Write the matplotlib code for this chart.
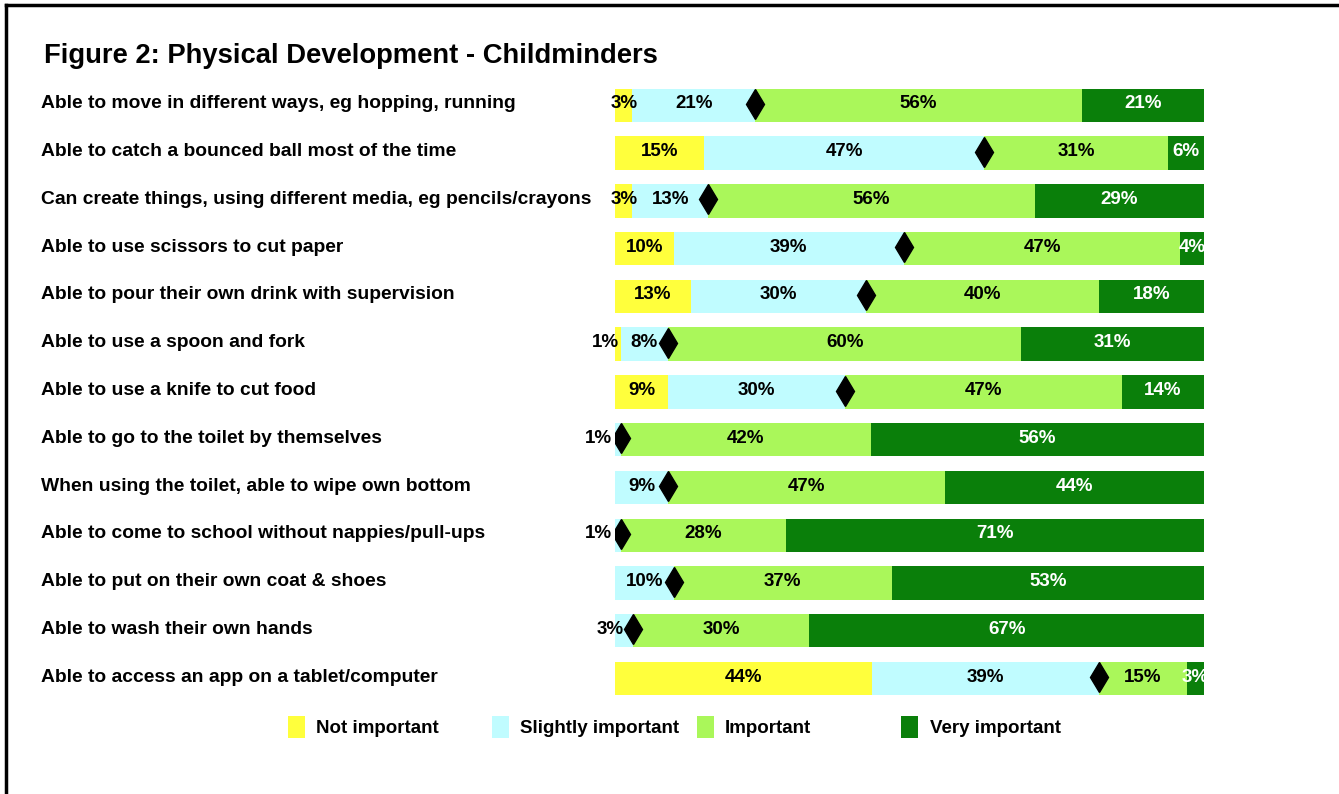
import numpy as np
import matplotlib.pyplot as plt
import matplotlib.transforms as mtransforms
from matplotlib.patches import Patch
from matplotlib.lines import Line2D

plt.rcParams['font.family'] = ['Liberation Sans', 'DejaVu Sans']
plt.rcParams['font.weight'] = 'bold'

categories = [
    'Able to move in different ways, eg hopping, running',
    'Able to catch a bounced ball most of the time',
    'Can create things, using different media, eg pencils/crayons',
    'Able to use scissors to cut paper',
    'Able to pour their own drink with supervision',
    'Able to use a spoon and fork',
    'Able to use a knife to cut food',
    'Able to go to the toilet by themselves',
    'When using the toilet, able to wipe own bottom',
    'Able to come to school without nappies/pull-ups',
    'Able to put on their own coat & shoes',
    'Able to wash their own hands',
    'Able to access an app on a tablet/computer',
]
not_important = [3, 15, 3, 10, 13, 1, 9, 0, 0, 0, 0, 0, 44]
slightly_important = [21, 47, 13, 39, 30, 8, 30, 1, 9, 1, 10, 3, 39]
important = [56, 31, 56, 47, 40, 60, 47, 42, 47, 28, 37, 30, 15]
very_important = [21, 6, 29, 4, 18, 31, 14, 56, 44, 71, 53, 67, 3]

series_names = ['Not important', 'Slightly important', 'Important', 'Very important']
colors = ['#FFFF3C', '#C0FCFF', '#AAF75A', '#0A7F0A']
text_colors = ['black', 'black', 'black', 'white']

W, H = 1339, 794
fig = plt.figure(figsize=(W / 100, H / 100), dpi=100)
ax = fig.add_axes([615 / W, 1 - 701 / H, (1204 - 615) / W, (701 - 80) / H])

data = np.array([not_important, slightly_important, important, very_important], dtype=float)
totals = data.sum(axis=0)
shares = data / totals * 100
y = np.arange(len(categories))

left = np.zeros(len(categories))
for k in range(4):
    ax.barh(y + 0.03, shares[k], left=left, height=0.7, color=colors[k], edgecolor='none')
    for i in range(len(categories)):
        v = data[k, i]
        if v == 0:
            continue
        lbl = '%d%%' % v
        first = left[i] == 0
        if first and (v <= 1 or (k == 1 and v <= 3)):
            # tiny first segment: label pushed out to the left of the bar
            end = left[i] + shares[k, i]
            off = 1.5 if k == 1 else 0.3
            ax.text(end - off, y[i], lbl, ha='right', va='center', fontsize=13.5,
                    color=text_colors[k], clip_on=False)
        else:
            ax.text(left[i] + shares[k, i] / 2, y[i], lbl, ha='center', va='center',
                    fontsize=13.5, color=text_colors[k], clip_on=(k == 3))
    left += shares[k]

# diamond marker at the boundary between "slightly important" and "important"
ax.plot(shares[0] + shares[1], y, linestyle='none', marker='d', markersize=15,
        color='black')

ax.set_xlim(0, 100)
ax.set_ylim(len(categories) - 0.5, -0.5)
ax.axis('off')

trans = mtransforms.blended_transform_factory(fig.transFigure, ax.transData)
for i, c in enumerate(categories):
    ax.text(41 / W, y[i], c, transform=trans, ha='left', va='center', fontsize=13.9,
            clip_on=False)

fig.text(44 / W, 1 - 56 / H, 'Figure 2: Physical Development - Childminders',
         ha='left', va='center', fontsize=19.7)

# legend entries laid out in equal-width columns, like the original
for j, name in enumerate(series_names):
    fig.legend([Patch(facecolor=colors[j], edgecolor='none')], [name],
               loc='center left', bbox_to_anchor=((271 + j * 204.5) / W, 1 - 727 / H),
               frameon=False, fontsize=13.5, handlelength=0.9, handleheight=1.5,
               handletextpad=0.6)

# outer frame
fig.add_artist(Line2D([6 / W, 6 / W], [0, 1 - 5 / H], transform=fig.transFigure,
                      color='black', lw=2.5))
fig.add_artist(Line2D([6 / W, 1], [1 - 5 / H, 1 - 5 / H], transform=fig.transFigure,
                      color='black', lw=2.5))

fig.savefig('out.png', dpi=100, facecolor='white')
